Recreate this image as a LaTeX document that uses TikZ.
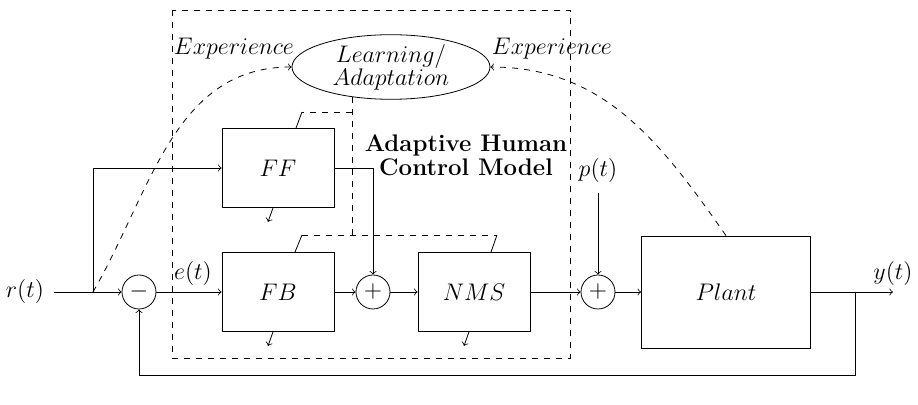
\documentclass[tikz,border=0pt]{standalone}
\usetikzlibrary{shapes.geometric,calc}
\begin{document}
\begin{tikzpicture}[x=0.5pt,y=-0.5pt,
  font=\fontsize{11.5}{13}\selectfont,
  blk/.style={draw,minimum width=56pt,minimum height=39.5pt,inner sep=0pt},
  sumc/.style={draw,circle,minimum size=17pt,inner sep=0pt},
  sig/.style={->},
  adapt/.style={dashed},
  tune/.style={->,shorten >=0pt},
  lbl/.style={inner sep=1pt}]
\useasboundingbox (0,0) rectangle (918,405);

% adaptive human model frame
\coordinate (fr1) at (172,10);
\coordinate (fr2) at (570,358);
\draw[adapt] (fr1) rectangle (fr2);

% learning block
\node[draw,ellipse,minimum width=99pt,minimum height=30pt,inner sep=0pt,align=center] (le) at (391,67)
  {$Learning/$\\[-1.5pt]$Adaptation$};
\node[lbl] (exl) at (234,49) {$Experience$};
\node[lbl] (exr) at (552,49) {$Experience$};

% blocks
\node[blk] (ff) at (278,168) {$FF$};
\node[blk] (fb) at (278,292) {$FB$};
\node[blk] (nms) at (474,292) {$NMS$};
\node[blk,minimum width=84.5pt,minimum height=56pt] (plant) at (726,292) {$Plant$};
\node[sumc] (s0) at (139,292) {$-$};
\node[sumc] (s1) at (373,292) {$+$};
\node[sumc] (s2) at (598,292) {$+$};

\node[align=center,inner sep=0pt,font=\fontsize{12}{12}\selectfont\bfseries] (title) at (466,155) {Adaptive Human\\Control Model};

% signals
\node[lbl] (r) at (25,292) {$r(t)$};
\node[lbl] (e) at (193,274) {$e(t)$};
\node[lbl] (p) at (598,171) {$p(t)$};
\coordinate (b1) at (93,292);
\coordinate (b2) at (855,292);
\coordinate (yout) at (893,292);
\coordinate (fbb) at (855,375);
\coordinate (ffo) at (373,168);
\node[lbl,above=2pt] (y) at (yout) {$y(t)$};

\draw[sig] (r.east) ++(4pt,0) -- (s0.west);
\draw[sig] (b1) |- (ff.west);
\draw[sig] (s0.east) -- (fb.west);
\draw[sig] (fb.east) -- (s1.west);
\draw[sig] (ff.east) -- (ffo) -- (s1.north);
\draw[sig] (s1.east) -- (nms.west);
\draw[sig] (nms.east) -- (s2.west);
\draw[sig] (p.south) ++(0,-4pt) -- (s2.north);
\draw[sig] (s2.east) -- (plant.west);
\draw[sig] (plant.east) -- (yout);
\draw[sig] (b2) -- (fbb) -| (s0.south);

% experience paths
\draw[adapt,->] (b1) to[out=60,in=180] (le.west);
\draw[adapt,->] (plant.north) to[out=125,in=0] (le.east);

% adaptation of the blocks
\coordinate (j1) at (352,235);
\coordinate (j2) at (352,112);
\coordinate (ffk) at (302,112);
\coordinate (fbk) at (302,235);
\coordinate (nmsk) at (497,235);
\draw[adapt] (j1 |- le.215) -- (j1);
\draw[adapt] (j2) -- (ffk);
\draw[adapt] (fbk) -- (nmsk);
\draw (ffk) -- ([xshift=9pt]ff.north);
\draw (fbk) -- ([xshift=8.5pt]fb.north);
\draw (nmsk) -- ([xshift=8.5pt]nms.north);

% parameter outputs
\draw[tune] ([xshift=-2.5pt]ff.south) -- ++(-2.5pt,-7pt);
\draw[tune] ([xshift=-2.5pt]fb.south) -- ++(-2.5pt,-7pt);
\draw[tune] ([xshift=-2.5pt]nms.south) -- ++(-2.5pt,-7pt);
\end{tikzpicture}
\end{document}
